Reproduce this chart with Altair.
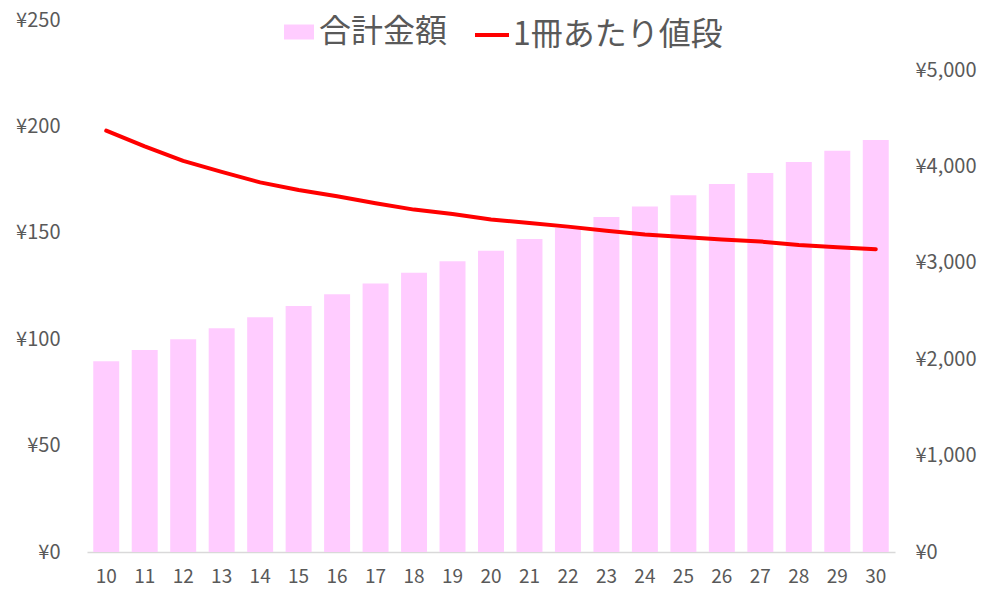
import altair as alt
import pandas as pd

books = list(range(10, 31))
totals = [1980, 2095, 2206, 2320, 2435, 2552, 2673, 2785, 2896, 3015, 3125,
          3247, 3360, 3475, 3585, 3700, 3817, 3931, 4045, 4163, 4274]
prices = [198.0, 190.6, 183.8, 178.6, 173.7, 170.1, 167.2, 163.9, 160.9, 158.8, 156.3,
          154.6, 152.9, 151.0, 149.2, 148.0, 146.8, 145.9, 144.3, 143.2, 142.3]
series_bar = "合計金額"
series_line = "1冊あたり値段"
left_ticks = [0, 50, 100, 150, 200, 250]
right_ticks = [0, 1000, 2000, 3000, 4000, 5000]

df = pd.DataFrame({"book": books, "total": totals, "price": prices})
df["s_bar"] = series_bar
df["s_line"] = series_line

FONT = "Noto Sans CJK JP"
GRAY = "#595959"
W, H = 808, 532

x = alt.X("book:O", title=None, sort=books,
          scale=alt.Scale(paddingInner=0.325, paddingOuter=0.1625),
          axis=alt.Axis(labelAngle=0, labelFont=FONT, labelFontSize=19, labelColor=GRAY,
                        domainColor="#D9D9D9", domainWidth=1.5, ticks=False,
                        labelPadding=15, grid=False))

bars = alt.Chart(df).mark_bar(color="#FFCCFF").encode(
    x=x,
    y=alt.Y("total:Q", title=None,
            scale=alt.Scale(domain=[0, 5000 * 532 / 482], nice=False, zero=True),
            axis=alt.Axis(orient="right", values=right_ticks, grid=False, domain=False,
                          ticks=False, tickSize=0, labelPadding=20, labelFont=FONT,
                          labelFontSize=20, labelColor=GRAY, labelAlign="left",
                          labelExpr="'¥' + format(datum.value, ',')")),
    color=alt.Color("s_bar:N",
                    scale=alt.Scale(domain=[series_bar], range=["#FFCCFF"]),
                    legend=alt.Legend(orient="none", legendX=196, legendY=-4, title=None,
                                      padding=0, symbolType="M-1,-0.5H1V0.5H-1Z",
                                      symbolSize=900, symbolStrokeWidth=0,
                                      symbolOpacity=1,
                                      labelFont=FONT, labelFontSize=32, labelColor=GRAY,
                                      labelOffset=4, labelLimit=400)),
)

line = alt.Chart(df).mark_line(strokeWidth=4, strokeCap="round", strokeJoin="round").encode(
    x=x,
    y=alt.Y("price:Q", title=None,
            scale=alt.Scale(domain=[0, 250], nice=False, zero=True),
            axis=alt.Axis(orient="left", values=left_ticks, grid=False, domain=False,
                          ticks=False, tickSize=0, labelPadding=27, labelFont=FONT,
                          labelFontSize=20, labelColor=GRAY,
                          labelExpr="'¥' + format(datum.value, ',')")),
    stroke=alt.Stroke("s_line:N",
                      scale=alt.Scale(domain=[series_line], range=["#FF0000"]),
                      legend=alt.Legend(orient="none", legendX=386, legendY=-4, title=None,
                                        padding=0, symbolType="stroke", symbolSize=1156,
                                        symbolStrokeWidth=4,
                                        labelFont=FONT, labelFontSize=32, labelColor=GRAY,
                                        labelOffset=2, labelLimit=400)),
)

chart = alt.layer(bars, line).resolve_scale(y="independent").properties(
    width=W, height=H,
    background="white",
    autosize=alt.AutoSizeParams(type="none"),
    padding={"left": 79, "top": 12, "right": 97, "bottom": 40},
).configure_view(strokeWidth=0, stroke=None)

chart.save("out.html", embed_options={"renderer": "svg", "actions": False})
